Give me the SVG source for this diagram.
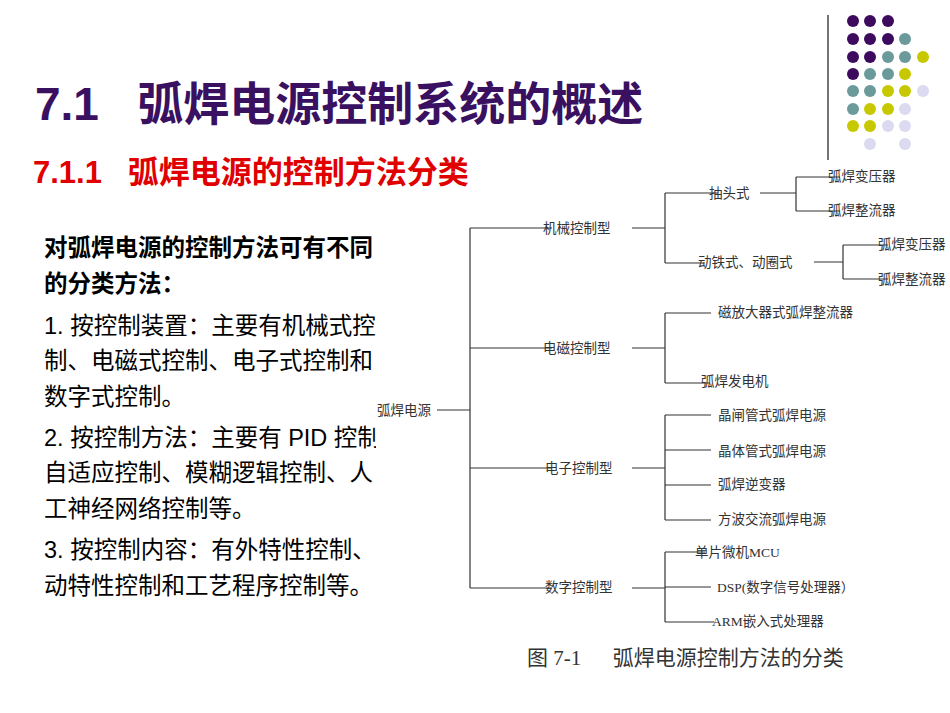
<svg xmlns="http://www.w3.org/2000/svg" width="950" height="713" viewBox="0 0 950 713">
<style>
.b{font-family:"Liberation Sans","Noto Sans CJK SC",sans-serif;font-size:23.5px;fill:#000}
.t{font-family:"Liberation Serif","Noto Sans CJK SC",serif;font-size:13.5px;fill:#333}
.l{stroke:#333;stroke-width:1.2;fill:none}
.p{fill:#3d0a5e}.g{fill:#6b9a9a}.y{fill:#c8c800}.v{fill:#dcdaf0}
</style>
<defs><clipPath id="c"><rect x="0" y="220" width="376" height="400"/></clipPath></defs>
<rect width="950" height="713" fill="#fff"/>
<g id="deco">
<line x1="828" y1="15" x2="828" y2="160" stroke="#444" stroke-width="1.5"/>
<g>
<circle class="p" cx="853" cy="21" r="6"/><circle class="p" cx="870" cy="21" r="6"/><circle class="p" cx="888" cy="21" r="6"/>
<circle class="p" cx="853" cy="39" r="6"/><circle class="p" cx="870" cy="39" r="6"/><circle class="p" cx="888" cy="39" r="6"/><circle class="g" cx="905" cy="39" r="6"/>
<circle class="p" cx="853" cy="57" r="6"/><circle class="p" cx="870" cy="57" r="6"/><circle class="g" cx="888" cy="57" r="6"/><circle class="g" cx="905" cy="57" r="6"/><circle class="y" cx="923" cy="57" r="6"/>
<circle class="p" cx="853" cy="74" r="6"/><circle class="g" cx="870" cy="74" r="6"/><circle class="g" cx="888" cy="74" r="6"/><circle class="y" cx="905" cy="74" r="6"/>
<circle class="g" cx="853" cy="91" r="6"/><circle class="g" cx="870" cy="91" r="6"/><circle class="y" cx="888" cy="91" r="6"/><circle class="y" cx="905" cy="91" r="6"/><circle class="v" cx="923" cy="91" r="6"/>
<circle class="g" cx="853" cy="109" r="6"/><circle class="y" cx="870" cy="109" r="6"/><circle class="y" cx="888" cy="109" r="6"/><circle class="v" cx="905" cy="109" r="6"/>
<circle class="y" cx="853" cy="126" r="6"/><circle class="y" cx="870" cy="126" r="6"/><circle class="v" cx="888" cy="126" r="6"/><circle class="v" cx="905" cy="126" r="6"/>
<circle class="v" cx="870" cy="144" r="6"/><circle class="v" cx="905" cy="144" r="6"/>
</g>
</g>
<text x="35" y="120" font-family="Liberation Sans,Noto Sans CJK SC,sans-serif" font-size="46" font-weight="bold" fill="#3a1060" xml:space="preserve">7.1   弧焊电源控制系统的概述</text>
<text x="33" y="183" font-family="Liberation Sans,Noto Sans CJK SC,sans-serif" font-size="31" font-weight="bold" fill="#e00000" xml:space="preserve">7.1.1   弧焊电源的控制方法分类</text>
<g id="body" clip-path="url(#c)">
<text class="b" x="44" y="256" font-weight="bold">对弧焊电源的控制方法可有不同</text>
<text class="b" x="44" y="292" font-weight="bold">的分类方法：</text>
<text class="b" x="44" y="334">1. 按控制装置：主要有机械式控</text>
<text class="b" x="44" y="369">制、电磁式控制、电子式控制和</text>
<text class="b" x="44" y="405">数字式控制。</text>
<text class="b" x="44" y="446">2. 按控制方法：主要有 PID 控制</text>
<text class="b" x="44" y="481">自适应控制、模糊逻辑控制、人</text>
<text class="b" x="44" y="517">工神经网络控制等。</text>
<text class="b" x="44" y="558">3. 按控制内容：有外特性控制、</text>
<text class="b" x="44" y="594">动特性控制和工艺程序控制等。</text>
</g>
<g id="connectors" class="l">
<path d="M437 410H470M470 228V588M470 228H552M470 348H552M470 468H552M470 588H552"/>
<path d="M632 228H665M665 193V263M665 193H718M665 263H705M760 193H796M796 177V211M796 177H840M796 211H840M814 262H843M843 245V279M843 245H888M843 279H888"/>
<path d="M632 348H665M665 313V383M665 313H711M665 383H710"/>
<path d="M632 468H665M665 415V520M665 415H711M665 450H711M665 485H711M665 520H711"/>
<path d="M632 588H665M665 552V622M665 552H705M665 587H711M665 622H714"/>
</g>
<g id="nodes">
<text class="t" x="377" y="415">弧焊电源</text>
<text class="t" x="543" y="233">机械控制型</text>
<text class="t" x="543" y="353">电磁控制型</text>
<text class="t" x="545" y="473">电子控制型</text>
<text class="t" x="545" y="592">数字控制型</text>
<text class="t" x="709" y="198">抽头式</text>
<text class="t" x="698" y="267">动铁式、动圈式</text>
<text class="t" x="828" y="181">弧焊变压器</text>
<text class="t" x="828" y="215">弧焊整流器</text>
<text class="t" x="878" y="249">弧焊变压器</text>
<text class="t" x="878" y="284">弧焊整流器</text>
<text class="t" x="718" y="317">磁放大器式弧焊整流器</text>
<text class="t" x="701" y="386">弧焊发电机</text>
<text class="t" x="718" y="420">晶闸管式弧焊电源</text>
<text class="t" x="718" y="456">晶体管式弧焊电源</text>
<text class="t" x="718" y="489">弧焊逆变器</text>
<text class="t" x="718" y="524">方波交流弧焊电源</text>
<text class="t" x="695" y="557">单片微机MCU</text>
<text class="t" x="717" y="592">DSP(数字信号处理器）</text>
<text class="t" x="712" y="626">ARM嵌入式处理器</text>
</g>
<text x="527" y="665" font-family="Liberation Serif,Noto Sans CJK SC,serif" font-size="21" fill="#333" xml:space="preserve">图 7-1      弧焊电源控制方法的分类</text>
</svg>
